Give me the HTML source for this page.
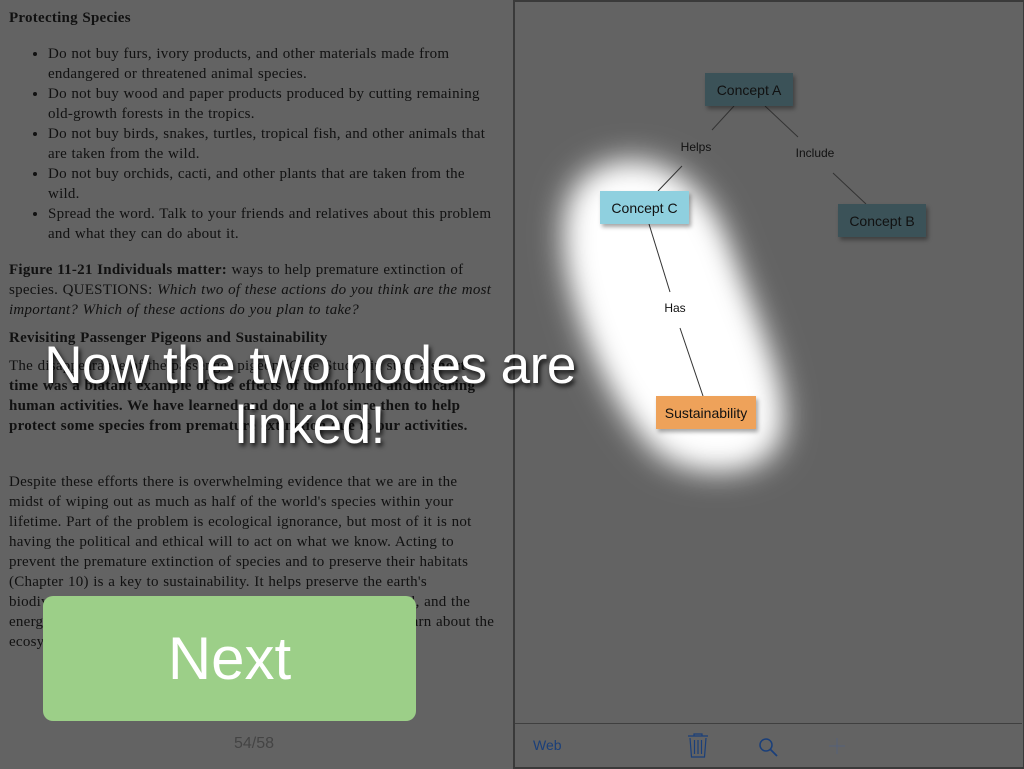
<!DOCTYPE html>
<html><head><meta charset="utf-8"><style>
html,body{margin:0;padding:0;}
body{width:1024px;height:768px;background:#636363;position:relative;overflow:hidden;font-family:"Liberation Serif",serif;color:#111;}
.t{position:absolute;left:9px;width:486px;font-size:15px;line-height:20px;letter-spacing:0.25px;word-spacing:0.5px;}
ul{margin:0;padding-left:39px;}
.abs{position:absolute;}
.node{position:absolute;font-family:"Liberation Sans",sans-serif;font-size:14px;color:#111;display:flex;align-items:center;justify-content:center;box-shadow:2px 3px 4px rgba(0,0,0,0.35);}
.lbl{position:absolute;font-family:"Liberation Sans",sans-serif;font-size:12px;color:#111;transform:translate(-50%,-50%);}
.big{position:absolute;left:0;width:620px;text-align:center;font-family:"Liberation Sans",sans-serif;color:#fff;font-size:53px;letter-spacing:-0.5px;text-shadow:2px 3px 5px rgba(0,0,0,0.85);}
</style></head><body>
<div class="t" style="top:8px;"><b>Protecting Species</b></div>
<div class="t" style="top:44px;"><ul>
<li>Do not buy furs, ivory products, and other materials made from endangered or threatened animal species.</li>
<li>Do not buy wood and paper products produced by cutting remaining old-growth forests in the tropics.</li>
<li>Do not buy birds, snakes, turtles, tropical fish, and other animals that are taken from the wild.</li>
<li>Do not buy orchids, cacti, and other plants that are taken from the wild.</li>
<li>Spread the word. Talk to your friends and relatives about this problem and what they can do about it.</li></ul></div>
<div class="t" style="top:260px;"><b>Figure 11-21 Individuals matter:</b> ways to help premature extinction of species. QUESTIONS: <i>Which two of these actions do you think are the most important? Which of these actions do you plan to take?</i></div>
<div class="t" style="top:328px;"><b>Revisiting Passenger Pigeons and Sustainability</b></div>
<div class="t" style="top:356px;">The disappearance of the passenger pigeon (Case Study) in such a <b>short time was a blatant example of the effects of uninformed and uncaring human activities. We have learned and done a lot since then to help protect some species from premature extinction due to our activities.</b></div>
<div class="t" style="top:472px;">Despite these efforts there is overwhelming evidence that we are in the midst of wiping out as much as half of the world's species within your lifetime. Part of the problem is ecological ignorance, but most of it is not having the political and ethical will to act on what we know. Acting to prevent the premature extinction of species and to preserve their habitats (Chapter 10) is a key to sustainability. It helps preserve the earth's biodiversity and not disrupt the chemical cycling, natural capital, and the energy flow that support all life. In the next chapter, you will learn about the ecosystems and the species and ecosystems that make up the</div>
<div class="abs" style="left:234px;top:735px;font-family:'Liberation Sans',sans-serif;font-size:16px;color:#444;">54/58</div>

<div class="abs" style="left:513px;top:0;width:508px;height:765px;border:2px solid #3a3a3a;"></div>
<div class="abs" style="left:515px;top:723px;width:507px;height:1px;background:#3f3f3f;"></div>

<svg class="abs" style="left:0;top:0" width="1024" height="768">
<defs><filter id="b" x="-50%" y="-50%" width="200%" height="200%"><feGaussianBlur stdDeviation="16"/></filter></defs>
<path d="M595 170 C640 145 700 170 725 240 C750 310 795 395 780 440 C765 480 680 480 650 445 C610 400 580 330 568 270 C560 220 565 185 595 170 Z" fill="#fff" filter="url(#b)"/>
<path d="M605 190 C645 170 695 200 715 255 C735 320 775 400 760 432 C745 460 690 458 665 428 C632 390 600 330 588 270 C582 230 585 200 605 190 Z" fill="#fff" filter="url(#b)"/>
<g stroke="#333" stroke-width="1">
<line x1="734" y1="106" x2="712" y2="130"/>
<line x1="765" y1="106" x2="798" y2="137"/>
<line x1="833" y1="173" x2="866" y2="204"/>
<line x1="682" y1="166" x2="658" y2="191"/>
<line x1="649" y1="224" x2="670" y2="292"/>
<line x1="680" y1="328" x2="703" y2="396"/>
</g>
<g stroke="#1a3f7a" fill="none" stroke-width="1.2">
<path d="M688 736 h20 M694 736 v-2 h8 v2"/>
<path d="M690 738 l1.5 19 h13 l1.5 -19"/>
<path d="M694.5 740 v14 M698 740 v14 M701.5 740 v14"/>
</g>
<circle cx="766" cy="745" r="6" stroke="#1a3f7a" stroke-width="1.5" fill="none"/>
<line x1="770.5" y1="749.5" x2="777" y2="756" stroke="#1a3f7a" stroke-width="1.8"/>
<path d="M837 738 v16 M829 746 h16" stroke="#54607a" stroke-width="1"/>
</svg>
<div class="abs" style="left:533px;top:737px;font-family:'Liberation Sans',sans-serif;font-size:14px;color:#1a3f7a;">Web</div>

<div class="node" style="left:705px;top:73px;width:88px;height:33px;background:#3b5258;">Concept A</div>
<div class="node" style="left:838px;top:204px;width:88px;height:33px;background:#3b5258;">Concept B</div>
<div class="node" style="left:600px;top:191px;width:89px;height:33px;background:#8fd0df;">Concept C</div>
<div class="node" style="left:656px;top:396px;width:100px;height:33px;background:#eea25a;">Sustainability</div>
<div class="lbl" style="left:696px;top:147px;">Helps</div>
<div class="lbl" style="left:815px;top:153px;">Include</div>
<div class="lbl" style="left:675px;top:308px;">Has</div>

<div class="big" style="top:335px;">Now the two nodes are</div>
<div class="big" style="top:395px;">linked!</div>

<div class="abs" style="left:43px;top:596px;width:373px;height:125px;background:#9ccf88;border-radius:10px;display:flex;align-items:center;justify-content:center;font-family:'Liberation Sans',sans-serif;font-size:60px;color:#fff;">Next</div>
</body></html>
